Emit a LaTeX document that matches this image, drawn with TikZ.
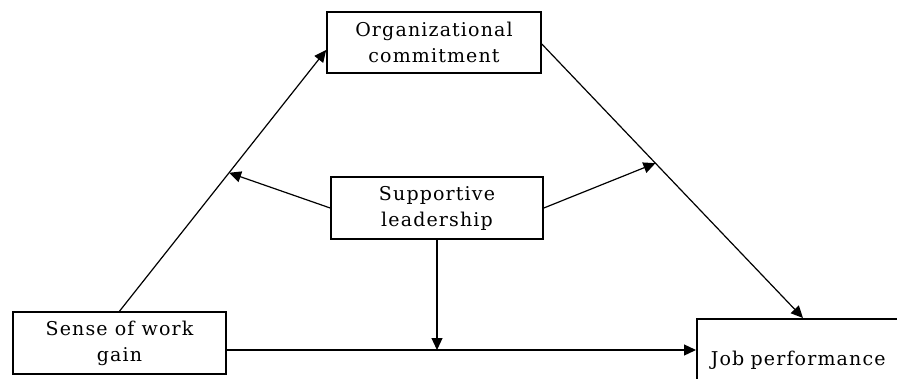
\documentclass[tikz,border=0pt]{standalone}
\usepackage{fontspec}
\setmainfont{DejaVu Serif}[LetterSpace=6]
\usetikzlibrary{calc,arrows.meta}
\begin{document}
\begin{tikzpicture}[x=1pt,y=-1pt,
  box/.style={draw,line width=1.6pt,fill=white,align=center,inner sep=0pt,
    font=\fontsize{19}{26}\selectfont},
  arr/.style={line width=1.2pt,-{Triangle[length=12pt,width=11pt]}},
  ln/.style={line width=1.2pt}]
\useasboundingbox (0,0) rectangle (897,378);
\clip (0,0) rectangle (897,378);
\node[box,minimum width=214pt,minimum height=61pt] (oc) at (434,42.5) {Organizational\\commitment};
\node[box,minimum width=212pt,minimum height=62pt] (sl) at (437,208) {Supportive\\leadership};
\node[box,minimum width=213pt,minimum height=62pt] (sw) at (119.5,343) {Sense of work\\gain};
\node[box,anchor=north west,minimum width=230pt,minimum height=78pt,text width=220pt,align=left,inner xsep=14pt,
  text depth=0pt] (jp) at (696,318) {Job performance};
\coordinate (ocin) at ($(oc.west)+(0,7.5)$);
\coordinate (ocout) at ($(oc.east)+(0,1.5)$);
\coordinate (jptop) at ($(jp.north west)+(107,0)$);
\coordinate (jpleft) at ($(jp.north west)+(0,32)$);
\coordinate (lmid) at ($(sw.north)!0.53!(ocin)$);
\coordinate (rmid) at ($(ocout)!0.435!(jptop)$);
\coordinate (hmid) at (sl.south |- jpleft);
\draw[arr] (sw.north) -- (ocin);
\draw[arr] (ocout) -- (jptop);
\draw[arr] (sw.east |- jpleft) -- (jpleft);
\draw[arr] (sl.west) -- (lmid);
\draw[arr] (sl.east) -- (rmid);
\draw[arr] (sl.south) -- (hmid);
\end{tikzpicture}
\end{document}
